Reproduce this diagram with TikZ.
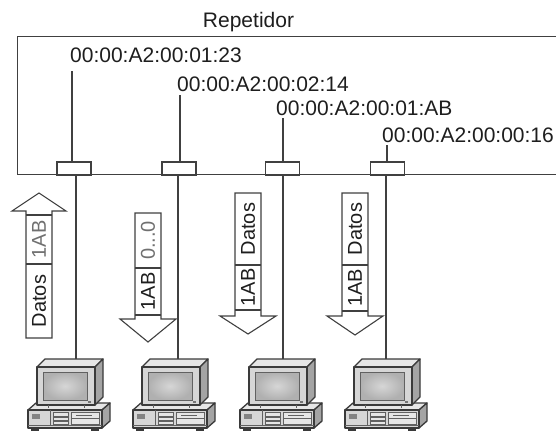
\documentclass[tikz,border=0pt]{standalone}
\usepackage{fontspec}
\setmainfont{Liberation Sans}
\definecolor{linegray}{HTML}{404040}
\definecolor{inkgray}{HTML}{1E1E1E}
\definecolor{softink}{HTML}{707070}
\definecolor{pcline}{HTML}{3A3A3A}
\definecolor{pcfront}{HTML}{D6D6D6}
\definecolor{pctop}{HTML}{E6E6E6}
\definecolor{pcside}{HTML}{A4A4A4}
\tikzset{
  wire/.style={draw=linegray, line width=1.4pt},
  repbox/.style={draw=linegray, line width=1.4pt, anchor=north west, inner sep=0,
    minimum width=590pt, minimum height=138.3pt},
  port/.style={draw=linegray, line width=1.4pt, fill=white, inner sep=0,
    minimum width=34pt, minimum height=13pt},
  mac/.style={font=\fontsize{21}{25}\selectfont, text=inkgray, inner sep=0, anchor=base west},
  title/.style={font=\fontsize{21}{25}\selectfont, text=inkgray, inner sep=0, anchor=base},
  frame/.style={draw=linegray, line width=1.1pt, fill=white, line join=miter},
  cellline/.style={draw=linegray, line width=1.1pt},
  celltext/.style={rotate=90, font=\fontsize{20}{24}\selectfont, inner sep=0, text=inkgray},
  pcedge/.style={draw=pcline, line width=1.3pt, line join=round},
  pcthin/.style={draw=pcline!80, line width=0.7pt},
  computer/.pic={
    % desktop case
    \filldraw[pcedge, fill=pctop] (0,51) -- (8,44) -- (82,44) -- (74,51) -- cycle;
    \filldraw[pcedge, fill=pcside] (74,51) -- (82,44) -- (82,62) -- (74,69) -- cycle;
    \filldraw[pcedge, fill=pcfront] (0,51) rectangle (74,69);
    \draw[pcthin] (22,51) -- (22,66);
    \draw[pcthin] (0,66) -- (74,66);
    \fill[pcside!80!black] (4,55) rectangle (12,60);
    \draw[pcthin, fill=pctop] (25,53) rectangle (40,57);
    \draw[pcthin, fill=pctop] (25,58) rectangle (40,61.5);
    \draw[pcthin, fill=pctop] (25,62.5) rectangle (40,65.5);
    \draw[pcthin, fill=pctop] (43,53.5) rectangle (71,65.5);
    \draw[pcthin] (43,59.5) -- (71,59.5);
    \draw[pcthin] (48,56.5) -- (64,56.5);
    \fill[pcline] (3,69) rectangle (11,72);
    \fill[pcline] (63,69) rectangle (71,72);
    % monitor
    \filldraw[pcedge, fill=pctop] (9,8) -- (17,0) -- (75,0) -- (67,8) -- cycle;
    \filldraw[pcedge, fill=pcside] (67,8) -- (75,0) -- (75,38) -- (67,46) -- cycle;
    \filldraw[pcedge, fill=pcfront] (9,8) rectangle (67,46);
    \shade[inner color=gray!32, outer color=gray!62] (15,13) rectangle (59,41);
    \draw[pcthin] (15,13) rectangle (59,41);
    \fill[pcline!70] (60,42) rectangle (63,44);
    \draw[pcthin] (20,46) -- (20,49) (56,46) -- (56,49);
  }
}
\begin{document}
\begin{tikzpicture}[x=1pt, y=-1pt]
\useasboundingbox (0,0) rectangle (556,431);

% repeater body, running off the right edge
\begin{scope}
  \clip (0,0) rectangle (556,431);
  \node[repbox] (rep) at (16.7,35.7) {};
\end{scope}
\node[title] (reptitle) at (248.5,27) {Repetidor};

% port addresses
\node[mac] (m1) at (70,62)  {00:00:A2:00:01:23};
\node[mac] (m2) at (177,91) {00:00:A2:00:02:14};
\node[mac] (m3) at (276,115) {00:00:A2:00:01:AB};
\node[mac] (m4) at (382,142) {00:00:A2:00:00:16};

% ports on the bottom edge
\node[port] (p1) at (74,168.5) {};
\node[port] (p2) at (179,168.5) {};
\node[port] (p3) at (282.5,168.5) {};
\node[port] (p4) at (387.5,168.5) {};

% leaders from the addresses to the ports
\coordinate (t1) at (72,71);
\coordinate (t2) at (180,95);
\coordinate (t3) at (283,118);
\coordinate (t4) at (387,145);
\foreach \i in {1,...,4} \draw[wire] (t\i) -- (t\i |- p\i.north);

% computers
\pic at (28,359)  {computer};
\pic at (133,359) {computer};
\pic at (240,359) {computer};
\pic at (345,359) {computer};
\coordinate (pc1) at (76,359);
\coordinate (pc2) at (178,359);
\coordinate (pc3) at (283,359);
\coordinate (pc4) at (386,359);
\foreach \i in {1,...,4} \draw[wire] (p\i.south -| pc\i) -- (pc\i);

% frame going up
\draw[frame] (26,338) -- (26,211) -- (12,211) -- (39,193) -- (66,211) -- (52,211) -- (52,338) -- cycle;
\draw[cellline] (26,264) -- (52,264) (26,215) -- (52,215);
\node[celltext] (f1a) at (39,301) {Datos};
\node[celltext, text=softink] (f1b) at (39,239.5) {1AB};

% frames going down
\draw[frame] (135,213) -- (135,319) -- (120,319) -- (148,342) -- (176,319) -- (161,319) -- (161,213) -- cycle;
\draw[cellline] (135,268) -- (161,268) (135,315) -- (161,315);
\node[celltext, text=softink] (f2a) at (148,240.5) {0...0};
\node[celltext] (f2b) at (148,291.5) {1AB};

\draw[frame] (235,193) -- (235,316) -- (220,316) -- (248,334) -- (276,316) -- (261,316) -- (261,193) -- cycle;
\draw[cellline] (235,265) -- (261,265) (235,310) -- (261,310);
\node[celltext] (f3a) at (248,229) {Datos};
\node[celltext] (f3b) at (248,287.5) {1AB};

\draw[frame] (342,193) -- (342,316) -- (327,316) -- (355,335) -- (383,316) -- (368,316) -- (368,193) -- cycle;
\draw[cellline] (342,265) -- (368,265) (342,311) -- (368,311);
\node[celltext] (f4a) at (355,229) {Datos};
\node[celltext] (f4b) at (355,288) {1AB};
\end{tikzpicture}
\end{document}
